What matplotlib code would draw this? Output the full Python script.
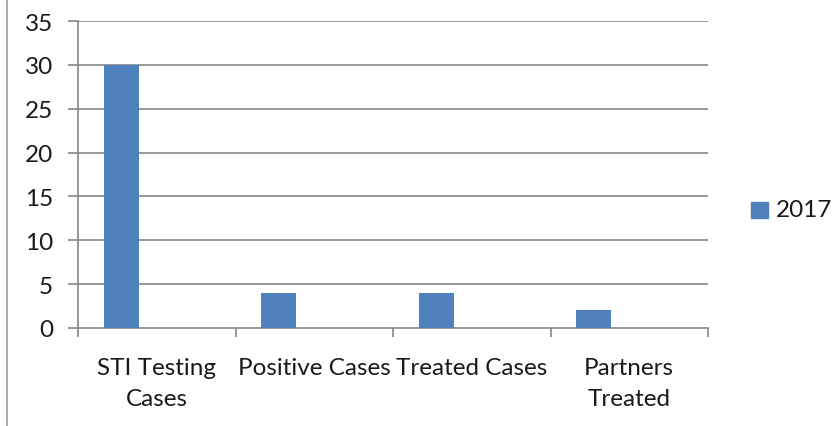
import matplotlib
matplotlib.use("Agg")
import matplotlib.pyplot as plt
from matplotlib.patches import Rectangle
from matplotlib.lines import Line2D
import numpy as np

categories = ["STI Testing\nCases", "Positive Cases", "Treated Cases", "Partners\nTreated"]
values_2017 = [30, 4, 4, 2]
series_name = "2017"
yticks = [0, 5, 10, 15, 20, 25, 30, 35]

plt.rcParams['font.family'] = ['Lato', 'DejaVu Sans']
W, H = 835, 427
fig = plt.figure(figsize=(W/100, H/100), dpi=100)
ax = fig.add_axes([78/W, 1-329/H, (708-78)/W, (329-22)/H])

grid_c = "#868686"
bar_c = "#4F81BD"
txt_c = "#1a1a1a"
fs = 17.5
x = np.arange(len(categories))
ax.bar(x + 0.275, values_2017, width=0.224, color=bar_c, zorder=3)
ax.set_xlim(0, len(categories))
ax.set_ylim(0, 35)
ax.set_yticks(yticks)
ax.set_yticklabels([str(t) for t in yticks], fontsize=fs, color=txt_c)
for t in yticks[1:]:
    ax.axhline(t, color=grid_c, lw=1.2, zorder=1)
ax.set_xticks(np.arange(len(categories) + 1))
ax.set_xticklabels([])
ax.tick_params(axis='x', length=6.5, color=grid_c, width=1.2, direction='out')
ax.tick_params(axis='y', length=7, color=grid_c, width=1.2, direction='out', pad=11)
for s in ['top', 'right']:
    ax.spines[s].set_visible(False)
for s in ['left', 'bottom']:
    ax.spines[s].set_color(grid_c)
    ax.spines[s].set_linewidth(1.2)
for i, c in enumerate(categories):
    ax.text(i + 0.5, -0.096, c, transform=ax.get_xaxis_transform(), ha='center', va='top',
            fontsize=fs, linespacing=1.55, color=txt_c)

# legend
fig.patches.append(Rectangle((751/W, 1-219/H), 17/W, 16/H, transform=fig.transFigure,
                             color=bar_c, figure=fig))
fig.text(776/W, 1-211/H, series_name, fontsize=fs, va='center', ha='left', color=txt_c)

# chart area border (left edge)
fig.lines.append(Line2D([7/W, 7/W], [0, 1], transform=fig.transFigure, color="#A0A0A0", lw=1.2))

fig.savefig("out.png", dpi=100)
